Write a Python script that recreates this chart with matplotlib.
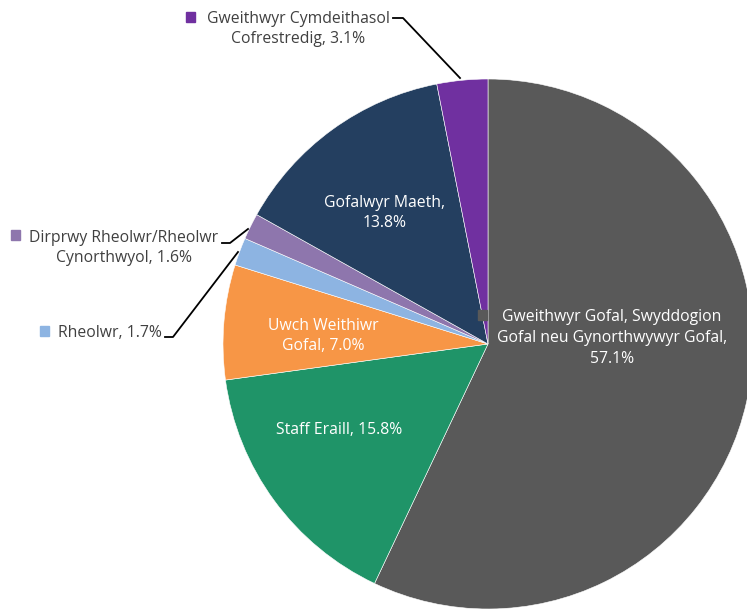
import matplotlib
matplotlib.use("Agg")
import matplotlib.pyplot as plt
from matplotlib.patches import Rectangle

labels = ["Gweithwyr Gofal, Swyddogion\nGofal neu Gynorthwywyr Gofal,\n57.1%",
          "Staff Eraill, 15.8%",
          "Uwch Weithiwr\nGofal, 7.0%",
          "Rheolwr, 1.7%",
          "Dirprwy Rheolwr/Rheolwr\nCynorthwyol, 1.6%",
          "Gofalwyr Maeth,\n13.8%",
          "Gweithwyr Cymdeithasol\nCofrestredig, 3.1%"]
values = [57.1, 15.8, 7.0, 1.7, 1.6, 13.8, 3.1]
colors = ["#595959", "#1f9468", "#f79646", "#8db4e2", "#8e76ad", "#243f60", "#7030a0"]

plt.rcParams['font.family'] = ['Open Sans', 'DejaVu Sans']
W, H = 747, 611
fig = plt.figure(figsize=(W/100, H/100), dpi=100)

cx, cy, r = 488, 344, 265
ax2 = fig.add_axes([0, 0, 1, 1])
ax2.pie(values, colors=colors, startangle=90, counterclock=False,
        center=(cx, H - cy), radius=r, frame=True,
        wedgeprops=dict(edgecolor='white', linewidth=0.4))
ax2.set_xlim(0, W)
ax2.set_ylim(0, H)
ax2.set_aspect('auto')
ax2.axis('off')

ax = fig.add_axes([0, 0, 1, 1])
ax.set_xlim(0, W)
ax.set_ylim(H, 0)
ax.axis('off')
ax.patch.set_alpha(0)

fs = 11.3
ls = 1.38
white = 'white'
dark = '#404040'
# inside labels
ax.text(612, 338, labels[0], color=white, fontsize=fs, ha='center', va='center', linespacing=ls)
ax.add_patch(Rectangle((478, 310), 9, 10, color=colors[0], zorder=3))
ax.text(339, 430, labels[1], color=white, fontsize=fs, ha='center', va='center')
ax.text(323, 336, labels[2], color=white, fontsize=fs, ha='center', va='center', linespacing=ls)
ax.text(385, 213, labels[5], color=white, fontsize=fs, ha='center', va='center', linespacing=ls)

# outside labels with leader lines
ax.text(298, 29, labels[6], color=dark, fontsize=fs, ha='center', va='center', linespacing=ls)
ax.add_patch(Rectangle((186, 12), 9, 10, color=colors[6]))
ax.plot([393, 403, 460], [18, 18, 78], color='black', lw=1.3)

ax.text(124, 248, labels[4], color=dark, fontsize=fs, ha='center', va='center', linespacing=ls)
ax.add_patch(Rectangle((11, 230), 9, 10, color=colors[4]))
ax.plot([222, 230, 248], [243, 243, 229], color='black', lw=1.3)

ax.text(110, 333, labels[3], color=dark, fontsize=fs, ha='center', va='center')
ax.add_patch(Rectangle((40, 326), 9, 10, color=colors[3]))
ax.plot([165, 173, 238], [337, 337, 252], color='black', lw=1.3)

fig.savefig("out.png", dpi=100)
